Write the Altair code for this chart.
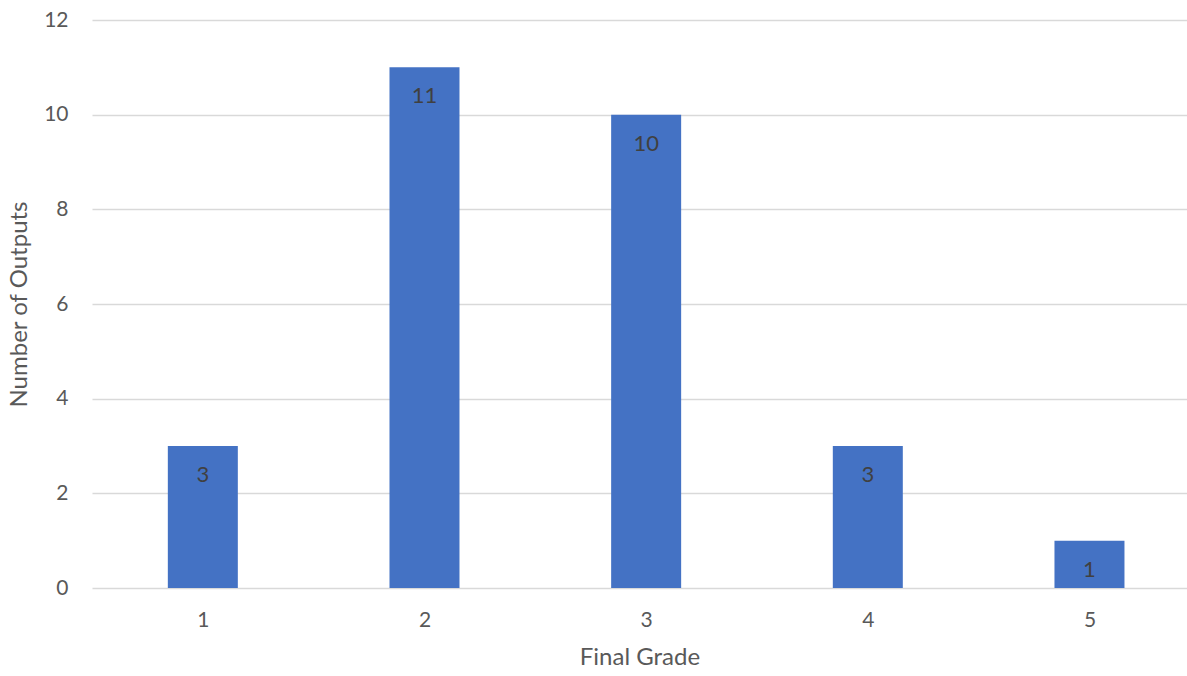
import altair as alt
import pandas as pd

grades = [1, 2, 3, 4, 5]
counts = [3, 11, 10, 3, 1]

df = pd.DataFrame({"grade": grades, "count": counts})

FONT = "Lato"

x = alt.X(
    "grade:Q",
    scale=alt.Scale(domain=[0.5, 5.44], nice=False, zero=False, padding=0),
    axis=alt.Axis(
        values=grades, format="d", title="Final Grade", grid=False, domain=False,
        ticks=False, labelPadding=21, labelFontSize=21, labelColor="#595959",
        titleFontSize=24, titleColor="#595959", titleFontWeight="normal",
        titlePadding=15, labelFont=FONT, titleFont=FONT,
    ),
)
y = alt.Y(
    "count:Q",
    scale=alt.Scale(domain=[0, 12], nice=False, padding=0),
    axis=alt.Axis(
        values=[0, 2, 4, 6, 8, 10, 12], title="Number of Outputs", grid=True,
        gridColor="#d9d9d9", gridWidth=1.5, domain=False, ticks=False,
        labelPadding=24, labelFontSize=21, labelColor="#595959",
        titleFontSize=24, titleColor="#595959", titleFontWeight="normal",
        titlePadding=12, labelFont=FONT, titleFont=FONT,
    ),
)

bars = alt.Chart(df).mark_bar(size=70, color="#4472C4").encode(x=x, y=y)
labels = alt.Chart(df).mark_text(
    baseline="top", dy=19, fontSize=22, color="#404040", font=FONT
).encode(x=x, y=y, text="count:Q")

chart = (bars + labels).properties(
    width=1095, height=568,
    background="white",
    padding={"left": 92, "top": 20, "right": 0, "bottom": 88},
    autosize=alt.AutoSizeParams(type="none"),
).configure_view(strokeWidth=0, stroke="transparent")

chart.save("out.html", embed_options={"renderer": "svg", "actions": False})
